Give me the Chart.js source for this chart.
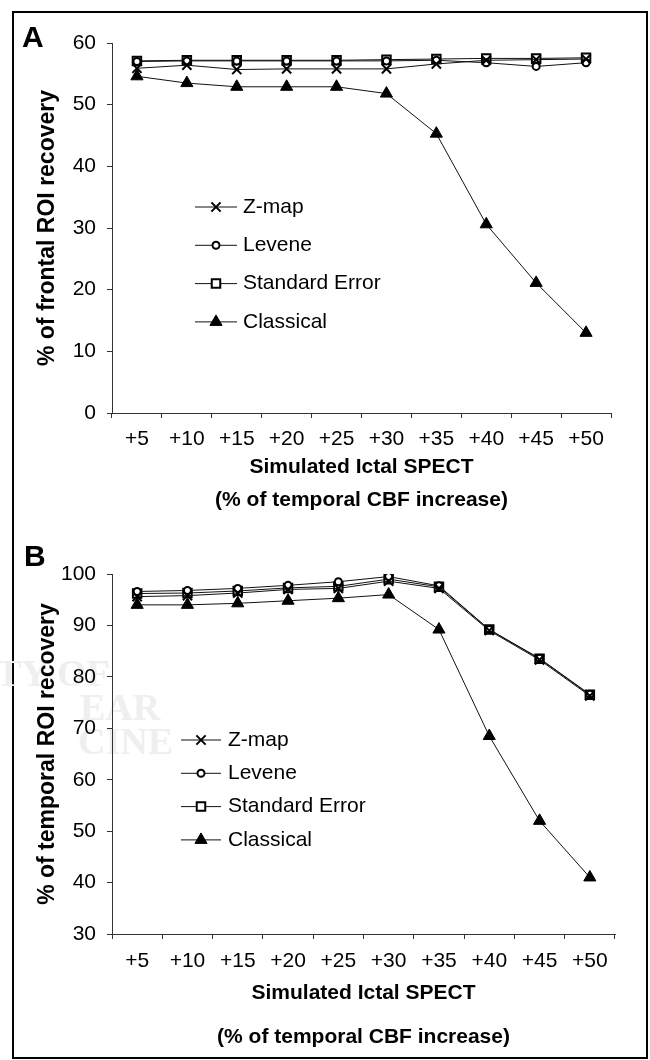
<!DOCTYPE html>
<html>
<head>
<meta charset="utf-8">
<script src="https://cdn.jsdelivr.net/npm/chart.js@4.4.1/dist/chart.umd.min.js"></script>
<style>
  html, body { margin: 0; padding: 0; background: #fff; }
  #page { position: relative; width: 650px; height: 1060px; overflow: hidden; font-family: "Liberation Sans", Arial, sans-serif; }
  #frame { position: absolute; left: 12px; top: 11px; width: 636px; height: 1048px; border: 2px solid #000; box-sizing: border-box; }
  .panel { position: absolute; left: 0; width: 650px; height: 530px; }
  .letter { position: absolute; font-weight: bold; font-size: 30px; line-height: 30px; color: #000; }
  .wm { position: absolute; font-family: "Liberation Serif", "DejaVu Serif", serif; font-weight: bold; font-size: 38px; color: #efefef; line-height: 38px; }
</style>
</head>
<body>
<div id="page">
  <div id="frame"></div>
  <div class="wm" style="left:-4px; top:654px;">TY OF</div>
  <div class="wm" style="left:80px; top:688px;">EAR</div>
  <div class="wm" style="left:78px; top:722px;">CINE</div>
  <canvas id="chartA" class="panel" style="top:0" width="650" height="530"></canvas>
  <canvas id="chartB" class="panel" style="top:530px" width="650" height="530"></canvas>
  <div class="letter" style="left:22px; top:22px;">A</div>
  <div class="letter" style="left:24px; top:541px;">B</div>
</div>
<script>
// increase steps on the x axis (both panels)
const categories = ['+5', '+10', '+15', '+20', '+25', '+30', '+35', '+40', '+45', '+50'];
const seriesNames = ['Z-map', 'Levene', 'Standard Error', 'Classical'];

// panel A - frontal ROI recovery (%)
const frontalZmap      = [55.9, 56.4, 55.7, 55.8, 55.8, 55.8, 56.6, 57.2, 57.3, 57.4];
const frontalLevene    = [57.0, 57.1, 57.1, 57.1, 57.1, 57.1, 57.2, 56.8, 56.2, 56.8];
const frontalStdErr    = [57.1, 57.2, 57.2, 57.2, 57.2, 57.3, 57.4, 57.5, 57.5, 57.6];
const frontalClassical = [54.6, 53.5, 52.9, 52.9, 52.9, 51.8, 45.3, 30.6, 21.1, 13.0];
const frontalTicks     = [0, 10, 20, 30, 40, 50, 60];

// panel B - temporal ROI recovery (%)
const temporalZmap      = [95.6, 95.8, 96.3, 97.0, 97.2, 98.6, 97.2, 89.0, 83.3, 76.3];
const temporalLevene    = [96.6, 96.8, 97.2, 97.8, 98.5, 99.5, 97.7, 89.2, 83.6, 76.6];
const temporalStdErr    = [96.2, 96.3, 96.7, 97.3, 97.6, 99.0, 97.5, 89.2, 83.5, 76.5];
const temporalClassical = [94.0, 94.0, 94.3, 94.8, 95.3, 96.0, 89.2, 68.5, 52.0, 41.0];
const temporalTicks     = [30, 40, 50, 60, 70, 80, 90, 100];

const FONT = "'Liberation Sans', Arial, sans-serif";
Chart.defaults.font.family = FONT;
Chart.defaults.color = '#000';

const markerStyles = [
    { pointStyle: 'crossRot', pointRadius: 6.5, pointBorderWidth: 2, pointBackgroundColor: '#000' },
    { pointStyle: 'circle', pointRadius: 3.5, pointBorderWidth: 2, pointBackgroundColor: '#fff' },
    { pointStyle: 'rect', pointRadius: 6, pointBorderWidth: 2, pointBackgroundColor: '#fff' },
    { pointStyle: 'triangle', pointRadius: 7, pointBorderWidth: 1, pointBackgroundColor: '#000' }
];

function makeDatasets(lists) {
    return lists.map((data, i) => Object.assign({
        label: seriesNames[i],
        data: data,
        borderColor: '#111',
        borderWidth: 1,
        pointBorderColor: '#000',
        pointHoverRadius: 0,
        tension: 0,
        fill: false
    }, markerStyles[i]));
}

// legend drawn inside the plot, line + marker + label like the original figure
const insideLegend = {
    id: 'insideLegend',
    afterDatasetsDraw(chart, args, o) {
        const ctx = chart.ctx;
        ctx.save();
        chart.data.datasets.forEach((ds, i) => {
            const y = o.top + i * o.gap;
            ctx.strokeStyle = '#111';
            ctx.lineWidth = 1;
            ctx.beginPath();
            ctx.moveTo(o.lineFrom, y);
            ctx.lineTo(o.lineTo, y);
            ctx.stroke();
            ctx.fillStyle = ds.pointBackgroundColor;
            ctx.strokeStyle = '#000';
            ctx.lineWidth = ds.pointBorderWidth;
            Chart.helpers.drawPoint(ctx, { pointStyle: ds.pointStyle, radius: ds.pointRadius, rotation: 0, borderWidth: ds.pointBorderWidth }, o.marker, y);
            ctx.fillStyle = '#000';
            ctx.font = '21px ' + FONT;
            ctx.textBaseline = 'middle';
            ctx.textAlign = 'left';
            ctx.fillText(ds.label, o.text, y);
        });
        ctx.restore();
    }
};

function buildChart(id, cfg) {
    const ticks = cfg.ticks;
    return new Chart(document.getElementById(id), {
        type: 'line',
        data: { labels: categories, datasets: makeDatasets(cfg.series) },
        plugins: [insideLegend],
        options: {
            responsive: false,
            animation: false,
            devicePixelRatio: 1,
            layout: { padding: { top: cfg.padTop, right: cfg.padRight, left: 0, bottom: 0 } },
            plugins: {
                legend: { display: false },
                tooltip: { enabled: false },
                insideLegend: cfg.legend
            },
            scales: {
                x: {
                    offset: true,
                    grid: { offset: true, drawOnChartArea: false, tickLength: 5, color: '#333' },
                    border: { color: '#333', width: 1 },
                    ticks: { padding: cfg.xTickPad, font: { size: 21 }, color: '#000', maxRotation: 0, autoSkip: false },
                    title: {
                        display: true,
                        text: ['Simulated Ictal SPECT', '(% of temporal CBF increase)'],
                        font: { size: 21, weight: 'bold', lineHeight: cfg.xTitleLine / 21 },
                        padding: { top: 0, bottom: cfg.xTitlePad },
                        color: '#000'
                    },
                    afterFit: s => { s.height = cfg.xHeight; }
                },
                y: {
                    min: ticks[0],
                    max: ticks[ticks.length - 1],
                    ticks: { stepSize: ticks[1] - ticks[0], padding: 11, font: { size: 21 }, color: '#000' },
                    grid: { drawOnChartArea: false, tickLength: 5, color: '#333' },
                    border: { color: '#333', width: 1 },
                    title: {
                        display: true,
                        text: cfg.yTitle,
                        font: { size: 23, weight: 'bold' },
                        padding: { top: 34, bottom: 0 },
                        color: '#000'
                    },
                    afterFit: s => { s.width = 112; }
                }
            }
        }
    });
}

buildChart('chartA', {
    series: [frontalZmap, frontalLevene, frontalStdErr, frontalClassical],
    ticks: frontalTicks,
    yTitle: '% of frontal ROI recovery',
    padTop: 43, padRight: 39,
    xHeight: 117, xTickPad: 9, xTitleLine: 33, xTitlePad: 13.5,
    legend: { top: 207, gap: 38.3, lineFrom: 195, lineTo: 237, marker: 216, text: 243 }
});

buildChart('chartB', {
    series: [temporalZmap, temporalLevene, temporalStdErr, temporalClassical],
    ticks: temporalTicks,
    yTitle: '% of temporal ROI recovery',
    padTop: 44, padRight: 35,
    xHeight: 126, xTickPad: 10, xTitleLine: 44, xTitlePad: 1,
    legend: { top: 210, gap: 33.3, lineFrom: 181, lineTo: 221, marker: 201, text: 228 }
});
</script>
</body>
</html>
